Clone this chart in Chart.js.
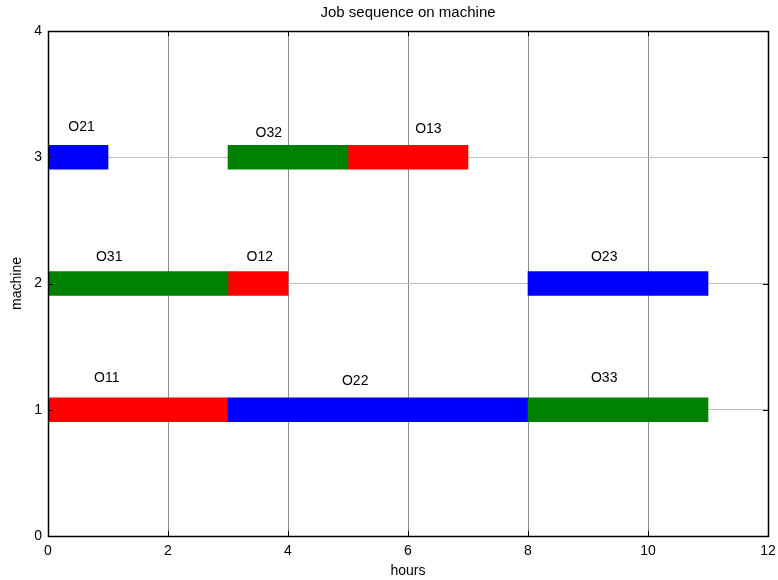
<!DOCTYPE html>
<html>
<head>
<meta charset="utf-8">
<style>
  html, body { margin: 0; padding: 0; background: #ffffff; }
  #wrap { width: 778px; height: 580px; }
</style>
<script src="https://cdn.jsdelivr.net/npm/chart.js@4/dist/chart.umd.min.js"></script>
</head>
<body>
<div id="wrap"><canvas id="gantt" width="778" height="580"></canvas></div>
<script>
// Operations: O<job><step>
const operations = ['O11', 'O12', 'O13', 'O21', 'O22', 'O23', 'O31', 'O32', 'O33'];
const machines   = [1, 2, 3, 3, 1, 2, 2, 3, 1];
const startHours = [0, 3, 5, 0, 3, 8, 0, 3, 8];
const endHours   = [3, 4, 7, 1, 8, 11, 3, 5, 11];

// Where each operation name sits (hours, machine level)
const labelHours    = [0.98, 3.53, 6.34, 0.56, 5.12, 9.27, 1.02, 3.68, 9.27];
const labelMachines = [1.25, 2.21, 3.22, 3.24, 1.23, 2.21, 2.21, 3.19, 1.25];

// Axis ticks
const hourTicks    = [0, 2, 4, 6, 8, 10, 12];
const machineTicks = [0, 1, 2, 3, 4];

const chartTitle = 'Job sequence on machine';

// One colour per job
const jobColors = { '1': '#ff0000', '2': '#0000ff', '3': '#008000' };

const FONT = "'Liberation Sans', Arial, Helvetica, sans-serif";

const bars = operations.map((op, i) => ({ x: [startHours[i], endHours[i]], y: machines[i] }));
const barColors = operations.map(op => jobColors[op.charAt(1)]);

// Frame, inward tick marks, plot title and operation names
const ganttDecor = {
  id: 'ganttDecor',
  afterDatasetsDraw(chart) {
    const { ctx, chartArea: a, scales: { x, y } } = chart;
    ctx.save();
    ctx.strokeStyle = '#000000';
    ctx.lineWidth = 1;
    ctx.beginPath();
    hourTicks.forEach(v => {
      const px = Math.round(x.getPixelForValue(v)) + 0.5;
      ctx.moveTo(px, a.bottom); ctx.lineTo(px, a.bottom - 5);
      ctx.moveTo(px, a.top); ctx.lineTo(px, a.top + 5);
    });
    machineTicks.forEach(v => {
      const py = Math.round(y.getPixelForValue(v)) + 0.5;
      ctx.moveTo(a.left, py); ctx.lineTo(a.left + 5, py);
      ctx.moveTo(a.right, py); ctx.lineTo(a.right - 5, py);
    });
    ctx.stroke();
    ctx.lineWidth = 1.5;
    ctx.strokeRect(Math.round(a.left) + 0.5, Math.round(a.top) + 0.5,
                   Math.round(a.right - a.left), Math.round(a.bottom - a.top));

    ctx.fillStyle = '#000000';
    ctx.textAlign = 'center';
    ctx.textBaseline = 'middle';
    ctx.font = '15px ' + FONT;
    ctx.fillText(chartTitle, (a.left + a.right) / 2, a.top - 18);

    ctx.font = '14px ' + FONT;
    operations.forEach((op, i) => {
      ctx.fillText(op, x.getPixelForValue(labelHours[i]), y.getPixelForValue(labelMachines[i]));
    });
    ctx.restore();
  }
};

new Chart(document.getElementById('gantt'), {
  type: 'bar',
  data: {
    datasets: [{
      data: bars,
      backgroundColor: barColors,
      borderWidth: 0,
      barThickness: 24
    }]
  },
  options: {
    indexAxis: 'y',
    responsive: false,
    animation: false,
    layout: { padding: { left: 0, right: 10, top: 31, bottom: 0 } },
    plugins: {
      legend: { display: false },
      tooltip: { enabled: false },
      title: { display: false }
    },
    scales: {
      x: {
        type: 'linear',
        min: 0,
        max: 12,
        offset: false,
        afterBuildTicks(scale) { scale.ticks = hourTicks.map(v => ({ value: v })); },
        afterFit(scale) {
          scale.height = 44;
          scale.paddingLeft = 0;
          scale.paddingRight = 0;
        },
        ticks: { color: '#000000', font: { family: FONT, size: 14 }, padding: 7, maxRotation: 0 },
        grid: {
          drawTicks: false,
          offset: false,
          color: ctx => (ctx.tick && (ctx.tick.value === 0 || ctx.tick.value === 12)) ? 'rgba(0,0,0,0)' : '#8c8c8c'
        },
        border: { display: false },
        title: {
          display: true,
          text: 'hours',
          color: '#000000',
          font: { family: FONT, size: 14 },
          padding: { top: 0, bottom: 0 }
        }
      },
      y: {
        type: 'linear',
        min: 0,
        max: 4,
        offset: false,
        afterBuildTicks(scale) { scale.ticks = machineTicks.map(v => ({ value: v })); },
        afterFit(scale) {
          scale.width = 48;
          scale.paddingTop = 0;
          scale.paddingBottom = 0;
        },
        ticks: { color: '#000000', font: { family: FONT, size: 14 }, padding: 6 },
        grid: {
          drawTicks: false,
          offset: false,
          color: ctx => (ctx.tick && (ctx.tick.value === 0 || ctx.tick.value === 4)) ? 'rgba(0,0,0,0)' : '#bdbdbd'
        },
        border: { display: false },
        title: {
          display: true,
          text: 'machine',
          color: '#000000',
          font: { family: FONT, size: 14 },
          padding: { top: 9, bottom: 0 }
        }
      }
    }
  },
  plugins: [ganttDecor]
});
</script>
</body>
</html>
